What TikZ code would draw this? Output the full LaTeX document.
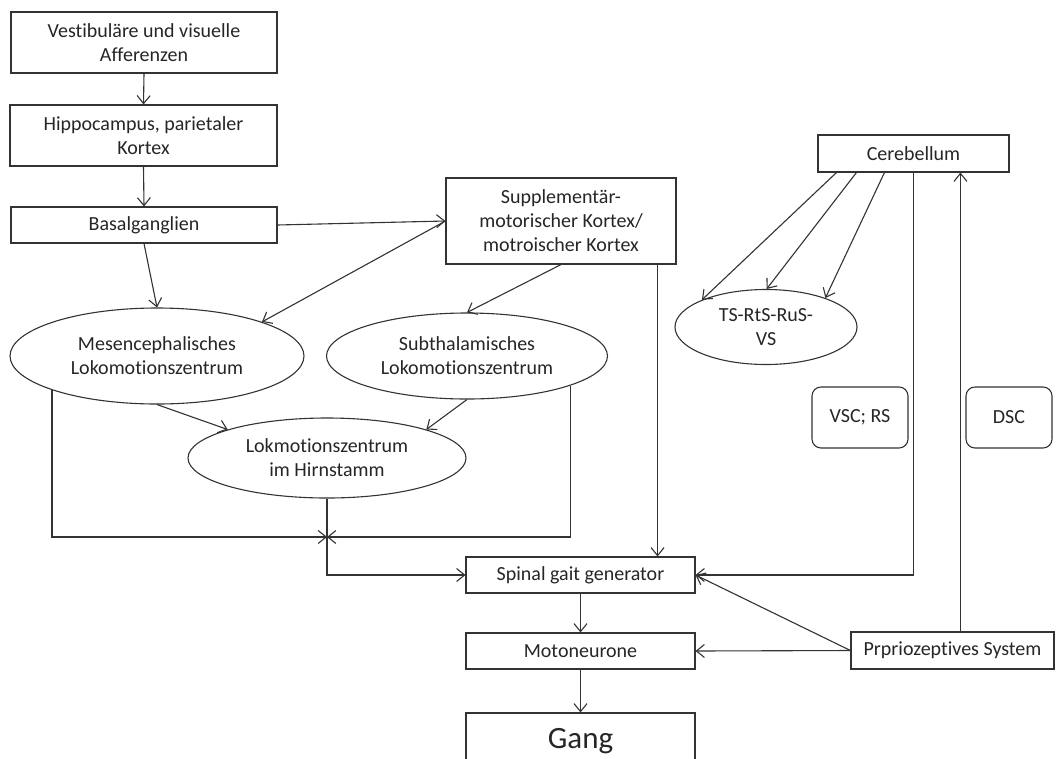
\documentclass[tikz,border=0pt]{standalone}
\usepackage{fontspec}
\setmainfont[Ligatures=NoCommon]{Carlito}
\usetikzlibrary{arrows.meta,shapes.geometric,calc}

\begin{document}
\begin{tikzpicture}[x=1pt,y=-1pt,
  every node/.style={font=\fontsize{20}{24}\selectfont, align=center, inner sep=0pt, text=black!85},
  box/.style={draw=black!80, line width=1.1pt, rectangle},
  oval/.style={draw=black!80, line width=1.1pt, ellipse},
  rbox/.style={draw=black!80, line width=1.1pt, rectangle, rounded corners=9pt},
  arr/.style={draw=black!80, line width=1.1pt, -{Straight Barb[length=8pt,width=13pt]}},
  ln/.style={draw=black!80, line width=1.1pt}]

\useasboundingbox (0,0) rectangle (1064,758);
\fill[white] (0,0) rectangle (1064,758);
\clip (0,0) rectangle (1064,758);

% left column
\node[box, minimum width=266pt, minimum height=61pt] (vis) at (144,42.5) {Vestibuläre und visuelle\\Afferenzen};
\node[box, minimum width=267pt, minimum height=61pt] (hip) at (143.5,135.5) {Hippocampus, parietaler\\Kortex};
\node[box, minimum width=266pt, minimum height=36pt] (bas) at (144,225) {Basalganglien};
\node[box, minimum width=230pt, minimum height=86pt] (sma) at (561,221) {Supplementär-\\motorischer Kortex/\\motroischer Kortex};

% locomotor centres
\node[oval, minimum width=294pt, minimum height=96pt] (mlr) at (157,356) {Mesencephalisches\\Lokomotionszentrum};
\node[oval, minimum width=281pt, minimum height=86pt] (slr) at (467,356) {Subthalamisches\\Lokomotionszentrum};
\node[oval, minimum width=278pt, minimum height=80pt] (blr) at (327,458) {Lokmotionszentrum\\im Hirnstamm};

% cerebellar side
\node[box, minimum width=191pt, minimum height=37pt] (cer) at (913.5,153.5) {Cerebellum};
\node[oval, minimum width=182pt, minimum height=75pt] (ts) at (766,327) {TS-RtS-RuS-\\VS};
\node[rbox, minimum width=96pt, minimum height=61pt] (vsc) at (860,417.5) {VSC; RS};
\node[rbox, minimum width=86pt, minimum height=61pt] (dsc) at (1009,417.5) {DSC};

% spinal level
\node[box, minimum width=229pt, minimum height=36pt] (sgg) at (580.5,575) {Spinal gait generator};
\node[box, minimum width=229pt, minimum height=36pt] (mot) at (580.5,651) {Motoneurone};
\node[box, minimum width=229pt, minimum height=56pt, font=\fontsize{31}{36}\selectfont] (gang) at (580.5,741) {Gang};
\node[box, minimum width=203pt, minimum height=37pt] (prop) at (952.5,650.5) {Prpriozeptives System};

% junction below the brainstem centre
\coordinate (j) at (327,537);

% connectors
\draw[arr] (vis.south) -- (hip.north);
\draw[arr] (hip.south) -- (bas.north);
\draw[arr] (bas.south) -- (mlr.north);
\draw[arr] (bas.east) -- (sma.west);
\draw[arr] (sma.west) -- (mlr.18);
\draw[arr] (sma.south) -- (slr.north);
\draw[arr] (mlr.south) -- (blr.164);
\draw[arr] (slr.south) -- (blr.16);
\draw[arr] (mlr.198) |- (j);
\draw[arr] (slr.-16.5) |- (j);
\draw[arr] (blr.south) |- (sgg.west);

\coordinate (sd) at ($(sma.south east)+(-19,0)$);
\draw[arr] (sd) -- (sd |- sgg.north);

\draw[arr] ($(cer.south west)+(19,0)$) -- (ts.157);
\draw[arr] ($(cer.south west)+(39,0)$) -- (ts.89);
\draw[arr] ($(cer.south west)+(67,0)$) -- (ts.26);
\draw[arr] (cer.south) |- (sgg.east);

\coordinate (pu) at ($(prop.north west)+(110,0)$);
\draw[arr] (pu) -- (pu |- cer.south);
\draw[arr] (prop.west) -- (sgg.east);
\draw[arr] (prop.west) -- (mot.east);

\draw[arr] (sgg.south) -- (mot.north);
\draw[arr] (mot.south) -- (gang.north);
\end{tikzpicture}
\end{document}
